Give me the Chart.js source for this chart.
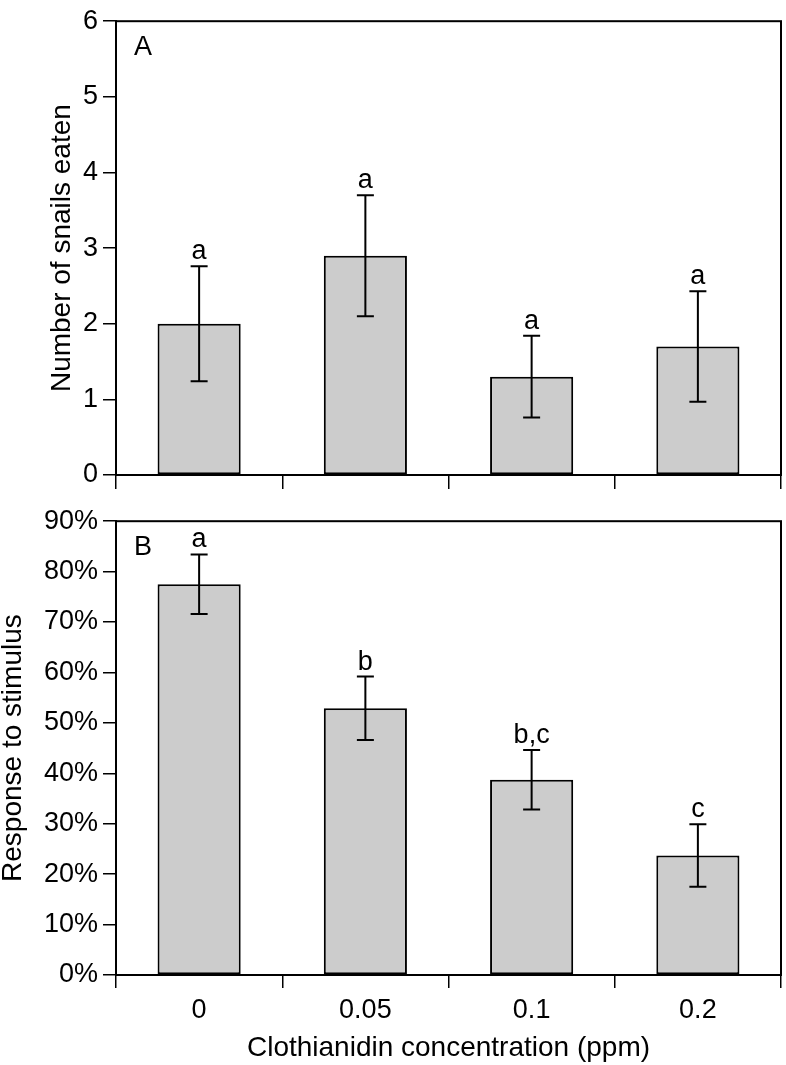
<!DOCTYPE html>
<html>
<head>
<meta charset="utf-8">
<script src="https://cdn.jsdelivr.net/npm/chart.js@4.4.1/dist/chart.umd.min.js"></script>
<style>
html, body { margin: 0; padding: 0; background: #fff; }
#wrapA { position: absolute; left: 0; top: 0; width: 786px; height: 500px; }
#wrapB { position: absolute; left: 0; top: 500px; width: 786px; height: 565px; }
</style>
</head>
<body>
<div id="wrapA"><canvas id="chartA"></canvas></div>
<div id="wrapB"><canvas id="chartB"></canvas></div>
<script>
// data
const categories = ['0', '0.05', '0.1', '0.2'];

const snailsMean = [2.0, 2.9, 1.3, 1.7];
const snailsErr = [0.76, 0.8, 0.54, 0.73];
const snailsLetters = ['a', 'a', 'a', 'a'];
const snailTicks = [0, 1, 2, 3, 4, 5, 6];

const responseMean = [77.5, 52.9, 38.7, 23.7];
const responseErr = [5.9, 6.3, 5.9, 6.2];
const responseLetters = ['a', 'b', 'b,c', 'c'];
const responseTicks = [0, 10, 20, 30, 40, 50, 60, 70, 80, 90];

const FONT_FAMILY = "'Liberation Sans', Arial, Helvetica, sans-serif";
const FONT_SIZE = 27;
const TITLE_SIZE = 28;
Chart.defaults.font.family = FONT_FAMILY;
Chart.defaults.font.size = FONT_SIZE;
Chart.defaults.color = '#000';

// error bars + significance letters
const errorBars = {
  id: 'errorBars',
  afterDatasetsDraw(chart, args, opts){
    const ctx = chart.ctx;
    const y = chart.scales.y;
    const meta = chart.getDatasetMeta(0);
    ctx.save();
    ctx.strokeStyle = '#000';
    ctx.lineWidth = 2;
    ctx.fillStyle = '#000';
    ctx.font = FONT_SIZE + 'px ' + FONT_FAMILY;
    ctx.textAlign = 'center';
    ctx.textBaseline = 'alphabetic';
    meta.data.forEach((bar, i)=>{
      const cx = bar.x;
      const hi = y.getPixelForValue(opts.means[i] + opts.errs[i]);
      const lo = y.getPixelForValue(opts.means[i] - opts.errs[i]);
      ctx.beginPath();
      ctx.moveTo(cx, hi); ctx.lineTo(cx, lo);
      ctx.moveTo(cx - 8.5, hi); ctx.lineTo(cx + 8.5, hi);
      ctx.moveTo(cx - 8.5, lo); ctx.lineTo(cx + 8.5, lo);
      ctx.stroke();
      ctx.fillText(opts.letters[i], cx, hi - 7);
    });
    ctx.restore();
  }
};

// box round the plot area and the panel letter
const frame = {
  id: 'frame',
  afterDraw(chart, args, opts){
    const {ctx, chartArea: a} = chart;
    ctx.save();
    ctx.strokeStyle = '#000';
    ctx.lineWidth = 2;
    ctx.strokeRect(a.left, a.top, a.right - a.left, a.bottom - a.top);
    ctx.fillStyle = '#000';
    ctx.font = FONT_SIZE + 'px ' + FONT_FAMILY;
    ctx.textAlign = 'left';
    ctx.textBaseline = 'alphabetic';
    ctx.fillText(opts.label, a.left + 18, a.top + 34);
    ctx.restore();
  }
};

function makePanel(id, p){
  return new Chart(document.getElementById(id), {
    type: 'bar',
    data: {
      labels: categories,
      datasets: [{
        data: p.means,
        backgroundColor: '#cccccc',
        borderColor: '#000',
        borderWidth: 2,
        borderSkipped: false,
        barPercentage: 0.5,
        categoryPercentage: 1.0
      }]
    },
    options: {
      responsive: true,
      maintainAspectRatio: false,
      animation: false,
      layout: { padding: { top: p.padTop, right: 5, left: 0, bottom: 0 } },
      plugins: {
        legend: { display: false },
        tooltip: { enabled: false },
        errorBars: { means: p.means, errs: p.errs, letters: p.letters },
        frame: { label: p.panel }
      },
      scales: {
        x: {
          type: 'category',
          offset: true,
          grid: { offset: true, drawOnChartArea: false, drawTicks: true, tickLength: p.xTick, color: '#000', lineWidth: 1.5 },
          border: { display: true, color: '#000', width: 2 },
          ticks: { display: p.showX, padding: 6, color: '#000', maxRotation: 0, autoSkip: false },
          title: {
            display: p.showX,
            text: 'Clothianidin concentration (ppm)',
            color: '#000',
            font: { size: TITLE_SIZE },
            padding: { top: 0, bottom: 0 }
          },
          afterFit: s => { s.height = p.xHeight; }
        },
        y: {
          min: p.ticks[0],
          max: p.ticks[p.ticks.length - 1],
          afterBuildTicks: s => { s.ticks = p.ticks.map(v => ({ value: v })); },
          grid: { drawOnChartArea: false, drawTicks: true, tickLength: 13, color: '#000', lineWidth: 1.5 },
          border: { display: true, color: '#000', width: 2 },
          ticks: { padding: 5, color: '#000', callback: p.fmt },
          title: {
            display: true,
            text: p.yTitle,
            color: '#000',
            font: { size: TITLE_SIZE },
            padding: { top: p.yTitlePad, bottom: 0 }
          },
          afterFit: s => { s.width = 116; }
        }
      }
    },
    plugins: [errorBars, frame]
  });
}

makePanel('chartA', {
  panel: 'A', means: snailsMean, errs: snailsErr, letters: snailsLetters,
  ticks: snailTicks, fmt: v => String(v), yTitle: 'Number of snails eaten', yTitlePad: 45,
  padTop: 14, xTick: 14, xHeight: 25, showX: false
});

makePanel('chartB', {
  panel: 'B', means: responseMean, errs: responseErr, letters: responseLetters,
  ticks: responseTicks, fmt: v => v + '%', yTitle: 'Response to stimulus', yTitlePad: -4,
  padTop: 13, xTick: 13, xHeight: 90, showX: true
});
</script>
</body>
</html>
